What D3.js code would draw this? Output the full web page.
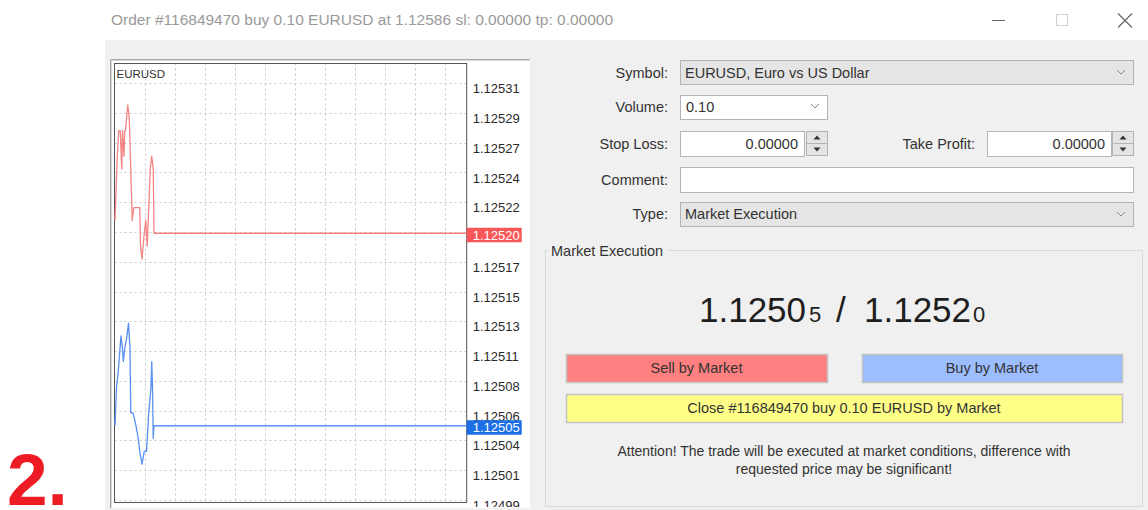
<!DOCTYPE html>
<html><head><meta charset="utf-8">
<script src="https://cdn.jsdelivr.net/npm/d3@7"></script>
<style>
body{margin:0;background:#fff;}
svg{display:block;}
text{font-family:"Liberation Sans",Arial,sans-serif;}
</style>
</head><body>
<svg id="c" width="1148" height="510"></svg>
<script>
// ---- data ----
const symbol = "EURUSD";
const askTimes  = [0, 1.5, 2.5, 3.5, 4.5, 5, 6, 6.5, 7, 8.5, 9.5, 10.5, 11.5, 12.5, 16.5, 17, 18, 19.5, 20.5, 21.5, 22.5, 23.5, 24.5, 25.5, 26, 234.5];
const askPrices = [1.12521, 1.12526, 1.12528, 1.12528, 1.12525, 1.12528, 1.12526, 1.12528, 1.12528, 1.12530, 1.12529, 1.12525, 1.12521, 1.12522, 1.12522, 1.12519, 1.12518, 1.12520, 1.12521, 1.12519, 1.12522, 1.12525, 1.12526, 1.12525, 1.12520, 1.12520];
const bidTimes  = [0, 1, 2, 4, 5, 5.5, 6.5, 8, 9, 10, 10.5, 12, 14, 15.5, 16.5, 18, 19.5, 21, 22.5, 24, 24.5, 25, 25.5, 26, 234.5];
const bidPrices = [1.12505, 1.12508, 1.12509, 1.12512, 1.12511, 1.12510, 1.12511, 1.12512, 1.12513, 1.12511, 1.12506, 1.12506, 1.12505, 1.12504, 1.12503, 1.12502, 1.12503, 1.12503, 1.12506, 1.12508, 1.12510, 1.12508, 1.12504, 1.12505, 1.12505];
const askPrice = 1.12520;
const bidPrice = 1.12505;
const gridValues = [1.1253170, 1.1252938, 1.1252706, 1.1252474, 1.1252242, 1.1252010, 1.1251778, 1.1251546, 1.1251314, 1.1251082, 1.1250850, 1.1250618, 1.1250386, 1.1250154, 1.1249922];
const tickLabels = ["1.12531","1.12529","1.12527","1.12524","1.12522","1.12520","1.12517","1.12515","1.12513","1.12511","1.12508","1.12506","1.12504","1.12501","1.12499"];
const timeGrid = [20, 40, 60, 80, 100, 120, 140, 160, 180, 200, 220];
const titleText = "Order #116849470 buy 0.10 EURUSD at 1.12586 sl: 0.00000 tp: 0.00000";

const svg = d3.select("#c");

// ---- window / dialog ----
svg.append("rect").attr("x",0).attr("y",0).attr("width",1148).attr("height",510).attr("fill","#fff");
svg.append("rect").attr("x",105).attr("y",40).attr("width",1043).attr("height",470).attr("fill","#f0f0f0");
svg.append("text").attr("x",111).attr("y",24.5).attr("font-size",15.5).attr("fill","#9a9a9a").text(titleText);
svg.append("line").attr("x1",992).attr("x2",1005).attr("y1",20.5).attr("y2",20.5).attr("stroke","#666").attr("stroke-width",1);
svg.append("rect").attr("x",1056.5).attr("y",14.5).attr("width",11).attr("height",11).attr("fill","none").attr("stroke","#cfcfcf");
svg.append("path").attr("d","M1118,13.5L1132,27.5M1132,13.5L1118,27.5").attr("stroke","#666").attr("stroke-width",1.2);

// "2." marker
svg.append("text").attr("x",7).attr("y",505).attr("font-size",73).attr("font-weight","bold").attr("fill","#ed1c24").text("2.");

// ---- chart ----
const plot = {l:114.5, t:63.5, r:466.7, b:502.5};
svg.append("rect").attr("x",110).attr("y",59).attr("width",420).attr("height",449).attr("fill","#fff");
svg.append("path").attr("d","M110.5,508V59.5H530").attr("fill","none").attr("stroke","#a8a8a8");
svg.append("path").attr("d","M111.5,508V60.5H530").attr("fill","none").attr("stroke","#d8d8d8");

const x = d3.scaleLinear().domain([0, 234.5]).range([115, plot.r]);
const y = d3.scaleLinear().domain([1.1249894, 1.1253323]).range([503.5, 63.5]);

const grid = svg.append("g");
grid.selectAll("line.h").data(gridValues).join("line").attr("class","h")
  .attr("x1",plot.l).attr("x2",plot.r).attr("y1",d=>Math.round(y(d))+0.5).attr("y2",d=>Math.round(y(d))+0.5)
  .attr("stroke","#c8c8c8").attr("stroke-dasharray","2,3");
grid.selectAll("line.v").data(timeGrid).join("line").attr("class","v")
  .attr("x1",d=>Math.round(x(d))+0.5).attr("x2",d=>Math.round(x(d))+0.5).attr("y1",plot.t).attr("y2",plot.b)
  .attr("stroke","#c8c8c8").attr("stroke-dasharray","2,3");

svg.append("rect").attr("x",plot.l).attr("y",plot.t).attr("width",plot.r-plot.l).attr("height",plot.b-plot.t)
  .attr("fill","none").attr("stroke","#555");

svg.append("text").attr("x",116.5).attr("y",78).attr("font-size",11.5).attr("fill","#333").text(symbol);

const line = d3.line().x(d=>x(d[0])).y(d=>y(d[1]));
const askData = askTimes.map((t,i)=>[t, askPrices[i]]);
const bidData = bidTimes.map((t,i)=>[t, bidPrices[i]]);
svg.append("path").datum(askData).attr("d",line).attr("fill","none").attr("stroke","#f58484").attr("stroke-width",1.3).attr("stroke-linejoin","round");
svg.append("path").datum(bidData).attr("d",line).attr("fill","none").attr("stroke","#5a8ff5").attr("stroke-width",1.3).attr("stroke-linejoin","round");

// price axis (clipped to the chart's white area)
svg.append("clipPath").attr("id","axclip").append("rect").attr("x",466).attr("y",59).attr("width",70).attr("height",448);
const axOuter = svg.append("g").attr("clip-path","url(#axclip)");
const axis = d3.axisRight(y).tickValues(gridValues).tickFormat((d,i)=>tickLabels[i]).tickSize(0).tickPadding(6);
const ag = axOuter.append("g").attr("transform",`translate(${plot.r},0)`).call(axis);
ag.select(".domain").remove();
ag.selectAll("text").attr("font-size",13).attr("fill","#2a2a2a").attr("dy","0.74em")
  .attr("font-family","'Liberation Sans',Arial,sans-serif");
// a label sitting under a price tag is hidden by the tag
ag.selectAll(".tick").filter(d => Math.abs(y(d) - y(askPrice)) < 6 || Math.abs(y(d) - y(bidPrice)) < 6).remove();

// price tags
const tags = [{p:askPrice, c:"#fa5858"},{p:bidPrice, c:"#1d6fe8"}];
tags.forEach(tg=>{
  const yy = y(tg.p);
  svg.append("rect").attr("x",plot.r).attr("y",yy-5.5).attr("width",55).attr("height",14.5).attr("fill",tg.c);
  svg.append("text").attr("x",plot.r+6).attr("y",yy+6.3).attr("font-size",13).attr("fill","#fff").text(d3.format(".5f")(tg.p));
});

// ---- form ----
const labelFont = 14.5;
function label(txt, xr, yb){ svg.append("text").attr("x",xr).attr("y",yb).attr("text-anchor","end").attr("font-size",labelFont).attr("fill","#333").text(txt); }
function box(x0,y0,w,h,fill){ svg.append("rect").attr("x",x0+0.5).attr("y",y0+0.5).attr("width",w).attr("height",h).attr("fill",fill).attr("stroke","#b4b4b4"); }
function chevron(cx,cy){ svg.append("path").attr("d",`M${cx-4},${cy-2}L${cx},${cy+2}L${cx+4},${cy-2}`).attr("fill","none").attr("stroke","#888").attr("stroke-width",1); }
function spinner(x0,y0){
  svg.append("rect").attr("x",x0+0.5).attr("y",y0+0.5).attr("width",21).attr("height",12).attr("fill","#e4e4e4").attr("stroke","#b4b4b4");
  svg.append("rect").attr("x",x0+0.5).attr("y",y0+12.5).attr("width",21).attr("height",12).attr("fill","#e4e4e4").attr("stroke","#b4b4b4");
  svg.append("path").attr("d",`M${x0+7.5},${y0+8.5}L${x0+11},${y0+4.5}L${x0+14.5},${y0+8.5}Z`).attr("fill","#333");
  svg.append("path").attr("d",`M${x0+7.5},${y0+16.5}L${x0+11},${y0+20.5}L${x0+14.5},${y0+16.5}Z`).attr("fill","#333");
}
function val(txt, xx, yb, anchor){ svg.append("text").attr("x",xx).attr("y",yb).attr("text-anchor",anchor||"start").attr("font-size",labelFont).attr("fill","#333").text(txt); }

label("Symbol:",668,78);
box(680,60,453,24,"#e5e5e5"); val("EURUSD, Euro vs US Dollar",685,78); chevron(1121,72);
label("Volume:",668,112);
box(680,95,147,24,"#fff"); val("0.10",686,112); chevron(815,106);
label("Stop Loss:",668,149);
box(680,131,124,25,"#fff"); val("0.00000",798,149,"end"); spinner(806,131);
label("Take Profit:",975,149);
box(987,131,124,25,"#fff"); val("0.00000",1105,149,"end"); spinner(1112,131);
label("Comment:",668,185);
box(680,167,453,25,"#fff");
label("Type:",668,219);
box(680,202,453,24,"#e5e5e5"); val("Market Execution",685,219); chevron(1121,214);

// group box
svg.append("rect").attr("x",545.5).attr("y",250.5).attr("width",597).attr("height",256).attr("fill","none").attr("stroke","#dadada");
svg.append("rect").attr("x",548).attr("y",243).attr("width",120).attr("height",14).attr("fill","#f0f0f0");
val("Market Execution",551,256);

// big price
const bp = svg.append("text").attr("y",321.7).attr("fill","#1e1e1e");
bp.append("tspan").attr("x",699).attr("font-size",35).text("1.1250");
bp.append("tspan").attr("x",809).attr("font-size",22).text("5");
bp.append("tspan").attr("x",836).attr("font-size",35).text("/");
bp.append("tspan").attr("x",864).attr("font-size",35).text("1.1252");
bp.append("tspan").attr("x",973).attr("font-size",22).text("0");

// buttons
function button(x0,y0,w,h,fill,txt){
  svg.append("rect").attr("x",x0+0.5).attr("y",y0+0.5).attr("width",w).attr("height",h).attr("fill",fill).attr("stroke","#c2c2c2").attr("stroke-width",1.5);
  val(txt, x0+w/2, y0+h/2+5, "middle");
}
button(566,354,261,28,"#ff8080","Sell by Market");
button(862,354,260,28,"#9cbdff","Buy by Market");
button(566,394,556,28,"#ffff88","Close #116849470 buy 0.10 EURUSD by Market");

svg.append("text").attr("x",844).attr("y",456).attr("text-anchor","middle").attr("font-size",14).attr("fill","#333")
  .text("Attention! The trade will be executed at market conditions, difference with");
svg.append("text").attr("x",844).attr("y",474).attr("text-anchor","middle").attr("font-size",14).attr("fill","#333")
  .text("requested price may be significant!");
</script>
</body></html>
